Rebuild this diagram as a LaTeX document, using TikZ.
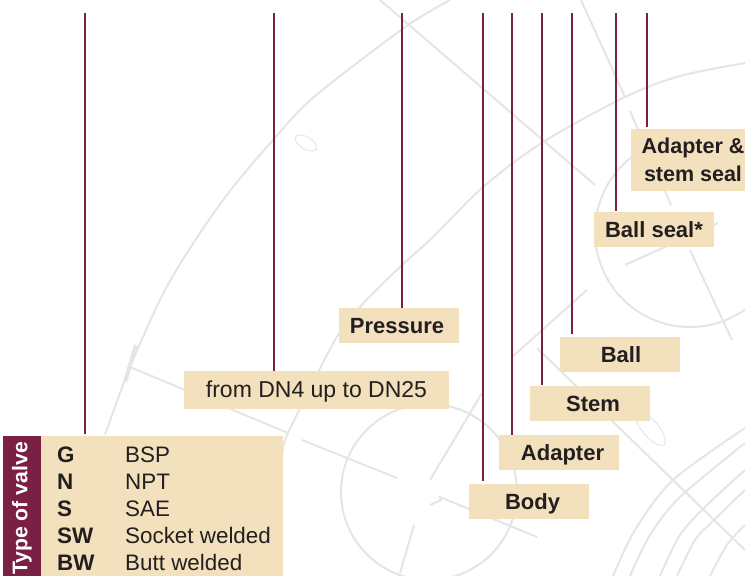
\documentclass[tikz,border=0pt]{standalone}
\usepackage{fontspec}
\setmainfont{Liberation Sans}
\definecolor{wine}{HTML}{7A2143}
\definecolor{cream}{HTML}{F3E0BC}
\definecolor{ink}{HTML}{231F20}
\definecolor{sketch}{HTML}{E4E5E7}
\tikzset{
labelbox/.style={fill=cream,text=ink,inner sep=0pt,minimum width=120pt,minimum height=35pt,text height=19pt,text depth=4pt,font=\fontsize{22}{28}\selectfont\bfseries},
leader/.style={wine,line width=2pt},
backline/.style={sketch,line width=2pt},
rowtext/.style={anchor=base west,text=ink,inner sep=0pt,font=\fontsize{22.4}{27}\selectfont}
}

\begin{document}
\begin{tikzpicture}[x=1pt,y=-1pt]
\useasboundingbox (0,0) rectangle (745,576);

%faint drawing behind
\begin{scope}
\clip (0,0) rectangle (745,576);
\draw[backline] plot[smooth] coordinates {(105,435) (130,367) (165,290) (200,233) (233,187) (273,140) (307,103) (357,63) (411,23) (450,0)};
\draw[backline] plot[smooth] coordinates {(283,453) (288,433) (335,340) (360,307) (400,267) (433,237) (483,187) (543,142) (625,97) (680,76) (745,63)};
\draw[backline,line width=4pt] (125,382) -- (136,345);
\draw[backline] (130,367) -- (288,433);
\draw[backline] (302,440) -- (397,478);
\draw[backline] (429,492) circle (88);
\draw[backline] (430,480) -- (482,393);
\draw[backline] (414,525) -- (400,573);
\draw[backline] (430,505) -- (441,500) -- (440,497) -- (537,537);
\draw[backline] (537,348) -- (745,550);
\draw[backline] (380,0) -- (595,185);
\draw[backline] (581,0) -- (625,97);
\draw[backline] (630,111) -- (671,205);
\draw[backline] (690,250) -- (732,340);
\draw[backline] (690,232) circle (95);
\draw[backline] (625,265) -- (718,223);
\draw[backline] (512,357) -- (587,290);
\draw[backline] plot[smooth] coordinates {(613,576) (635,530) (673,480) (745,428)};
\draw[backline] plot[smooth] coordinates {(630,576) (650,535) (680,497) (745,443)};
\draw[backline] plot[smooth] coordinates {(660,576) (680,535) (707,505) (745,470)};
\draw[backline] plot[smooth] coordinates {(677,576) (695,540) (712,522) (745,490)};
\draw[backline] plot[smooth] coordinates {(710,576) (727,545) (745,525)};
\draw[sketch,line width=1pt,rotate around={-50:(650,428)}] (650,428) ellipse (22 and 8);
\draw[sketch,line width=1pt,rotate around={-30:(306,143)}] (306,143) ellipse (12 and 6);
\end{scope}

%labels
\node[labelbox] (body) at (529,501.5) {\hspace*{7pt}Body};
\node[labelbox] (adapter) at (559,452.5) {\hspace*{7pt}Adapter};
\node[labelbox] (stem) at (590,403.5) {\hspace*{6pt}Stem};
\node[labelbox] (ball) at (620,354.5) {\hspace*{2pt}Ball};
\node[labelbox] (ballseal) at (654,229.5) {Ball seal*};
\node[labelbox,align=center,minimum width=124pt,minimum height=62pt,text height=,text depth=,font=\fontsize{21.5}{28}\selectfont\bfseries] (stemseal) at (693,160) {Adapter \&\\stem seal};
\node[labelbox] (pressure) at (399,325.5) {Pressure\hspace*{4pt}};
\node[labelbox,minimum width=265pt,minimum height=38pt,font=\fontsize{23}{27}\selectfont] (size) at (316.5,390) {from DN4 up to DN25};

%type of valve table
\node[fill=cream,inner sep=0pt,minimum width=242pt,minimum height=140pt] (valvebox) at (162,506) {};
\node[fill=wine,text=white,rotate=90,inner sep=0pt,minimum width=140pt,minimum height=38pt,font=\fontsize{21.2}{25}\selectfont\bfseries] (valvetag) at (22,506) {Type of valve\hspace*{5pt}};
\foreach \n/\code/\desc/\y in {1/G/BSP/462,2/N/NPT/489,3/S/SAE/516,4/SW/Socket welded/543,5/BW/Butt welded/570}{
\node[rowtext] (code\n) at (57,\y) {\textbf{\code}};
\node[rowtext] (desc\n) at (125,\y) {\desc};}

%leaders
\foreach \name/\x/\gap in {valvebox/85/2,size/274/0,pressure/402/0,body/483/3,adapter/512/0,stem/542/1,ball/572/3,ballseal/616/1,stemseal/647/2}{
\coordinate (top\name) at (\x,13);
\draw[leader,shorten >=\gap pt] (top\name) -- (top\name |- \name.north);}

\end{tikzpicture}
\end{document}
